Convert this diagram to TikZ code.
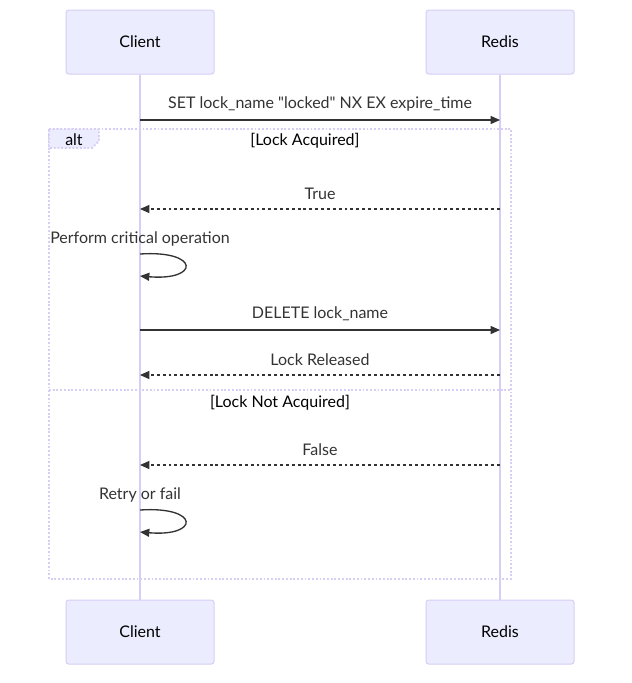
\documentclass[tikz,border=0pt]{standalone}
\usepackage{fontspec}
\setmainfont{Lato}
\usetikzlibrary{arrows.meta,positioning}
\definecolor{actorfill}{HTML}{ECECFF}
\definecolor{actorline}{HTML}{D6CEF4}
\definecolor{ink}{HTML}{333333}
\tikzset{
  actor/.style={draw=actorline, fill=actorfill, line width=0.75pt, rounded corners=2pt,
    minimum width=111pt, minimum height=48pt, text=black, font=\fontsize{12}{14}\selectfont},
  life/.style={draw=actorline, line width=1.2pt},
  msg/.style={draw=ink, line width=1pt, -{Triangle[length=7pt,width=6pt]}},
  reply/.style={msg, dash pattern=on 2.2pt off 2.2pt},
  msgtext/.style={text=ink, font=\fontsize{12}{14}\selectfont},
  frame/.style={draw=actorline, line width=1.4pt, dash pattern=on 1.4pt off 1.4pt},
  guard/.style={text=black, font=\fontsize{12}{14}\selectfont}
}
\begin{document}
\begin{tikzpicture}[x=0.75pt, y=-0.75pt]
  \useasboundingbox (0,0) rectangle (632,683);
  % actors
  \node[actor] (client) at (140,42) {Client};
  \node[actor] (redis) at (500,42) {Redis};
  \node[actor] (clientb) at (140,632) {Client};
  \node[actor] (redisb) at (500,632) {Redis};
  \draw[life] (client.south) -- (clientb.north);
  \draw[life] (redis.south) -- (redisb.north);

  % alt frame
  \draw[frame] (49,129) rectangle (511,579);
  \draw[frame] (49,390) -- (511,390);
  \filldraw[frame, fill=actorfill] (49,129) -- (99,129) -- (99,141) -- (92,148) -- (49,148) -- cycle;
  \node[guard] (alt) at (74,140) {alt};
  \node[guard] (acq) at (305,141) {[Lock Acquired]};
  \node[guard] (notacq) at (280,403) {[Lock Not Acquired]};

  % message points
  \coordinate (c1) at (140,120); \coordinate (r1) at (500,120);
  \coordinate (r2) at (500,209); \coordinate (c2) at (140,209);
  \coordinate (c3) at (140,254); \coordinate (c3e) at (140,276);
  \coordinate (c4) at (140,330); \coordinate (r4) at (500,330);
  \coordinate (r5) at (500,375); \coordinate (c5) at (140,375);
  \coordinate (r6) at (500,465); \coordinate (c6) at (140,465);
  \coordinate (c7) at (140,510); \coordinate (c7e) at (140,532);

  % messages
  \draw[msg] (c1) -- node[msgtext, above=3pt] {SET lock\_name \textquotedbl locked\textquotedbl{} NX EX expire\_time} (r1);
  \draw[reply] (r2) -- node[msgtext, above=3pt] {True} (c2);
  \node[msgtext, above=2.5pt] (work) at (c3) {Perform critical operation};
  \draw[msg] (c3) .. controls (200,250) and (200,281) .. (c3e);
  \draw[msg] (c4) -- node[msgtext, above=3pt] {DELETE lock\_name} (r4);
  \draw[reply] (r5) -- node[msgtext, above=3pt] {Lock Released} (c5);
  \draw[reply] (r6) -- node[msgtext, above=3pt] {False} (c6);
  \node[msgtext, above=2.5pt] (retry) at (c7) {Retry or fail};
  \draw[msg] (c7) .. controls (200,506) and (200,537) .. (c7e);
\end{tikzpicture}
\end{document}
